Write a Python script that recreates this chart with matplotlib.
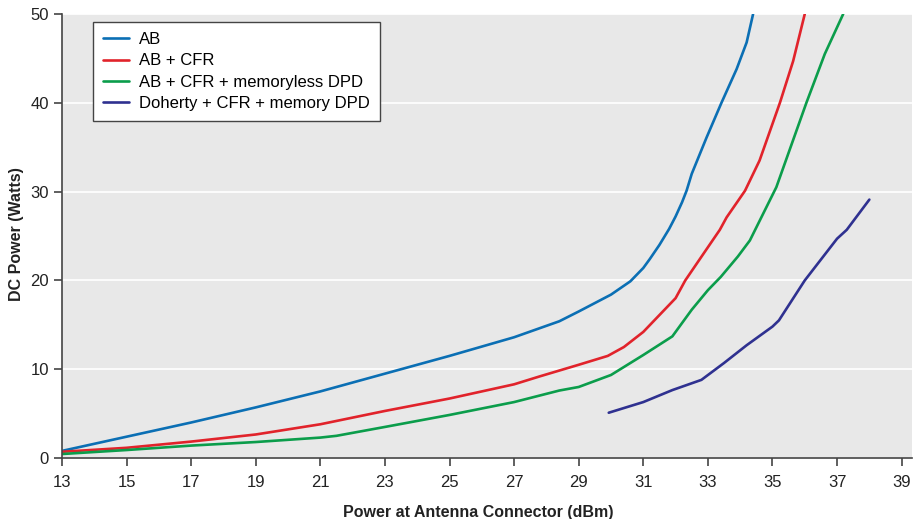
import matplotlib.pyplot as plt

plt.rcParams['font.family'] = ['Liberation Sans', 'DejaVu Sans']

# Data
ab_x = [13, 15, 17, 19, 21, 23, 25, 27, 28.4, 29, 30, 30.6, 31, 31.2, 31.5, 31.8,
        32.0, 32.2, 32.34, 32.5, 32.96, 33.42, 33.89, 34.2, 34.4]
ab_y = [0.8, 2.4, 4.0, 5.7, 7.5, 9.5, 11.5, 13.6, 15.4, 16.5, 18.4, 19.9, 21.4, 22.4, 24.0, 25.8,
        27.2, 28.8, 30.1, 32.0, 36.1, 40.0, 43.8, 46.8, 50.0]

cfr_x = [13, 15, 17, 19, 21, 23, 25, 27, 27.8, 29, 29.45, 29.9, 30.4, 31, 31.5, 32.0,
         32.3, 32.9, 33.37, 33.58, 34.15, 34.6, 35.23, 35.64, 36.0]
cfr_y = [0.7, 1.15, 1.85, 2.65, 3.8, 5.3, 6.7, 8.3, 9.2, 10.5, 11.0, 11.5, 12.5, 14.2, 16.1, 18.0,
         20.0, 23.2, 25.7, 27.1, 30.1, 33.5, 40.0, 44.7, 50.0]

dpd_x = [13, 15, 17, 19, 21, 21.5, 23, 25, 27, 28.4, 29, 30, 31, 31.9, 32.5, 33.0,
         33.4, 33.93, 34.3, 35.12, 36.05, 36.62, 37.19]
dpd_y = [0.45, 0.9, 1.4, 1.8, 2.3, 2.5, 3.5, 4.85, 6.3, 7.6, 8.0, 9.35, 11.6, 13.7, 16.7, 18.9,
         20.4, 22.7, 24.5, 30.5, 40.0, 45.5, 50.0]

doh_x = [29.93, 31, 31.9, 32.8, 33.5, 34.2, 35.0, 35.2, 36.0, 37.0, 37.3, 38.0]
doh_y = [5.1, 6.3, 7.65, 8.8, 10.7, 12.7, 14.8, 15.5, 20.0, 24.7, 25.7, 29.1]

series = [
    ('AB', ab_x, ab_y, '#0b6fb4'),
    ('AB + CFR', cfr_x, cfr_y, '#e1232b'),
    ('AB + CFR + memoryless DPD', dpd_x, dpd_y, '#0b9d4b'),
    ('Doherty + CFR + memory DPD', doh_x, doh_y, '#2f3190'),
]

fig = plt.figure(figsize=(9.14, 5.19), dpi=100)
ax = fig.add_axes([0.0678, 0.1175, 0.930, 0.8555])
ax.set_facecolor('#e8e8e8')

for label, xs, ys, color in series:
    ax.plot(xs, ys, color=color, linewidth=1.9, label=label,
            solid_joinstyle='round', solid_capstyle='round')

ax.set_xlim(13, 39.32)
ax.set_ylim(0, 50)
ax.set_xticks(range(13, 40, 2))
ax.set_yticks(range(0, 51, 10))
ax.yaxis.grid(True, color='white', linewidth=1.2)
ax.set_axisbelow(True)

for side in ['top', 'right']:
    ax.spines[side].set_visible(False)
for side in ['left', 'bottom']:
    ax.spines[side].set_color('#444444')
    ax.spines[side].set_linewidth(1.2)
ax.tick_params(axis='both', colors='#444444', labelcolor='#222222', labelsize=12,
               length=6, width=1.2, direction='out')
ax.tick_params(axis='x', pad=6)

ax.set_xlabel('Power at Antenna Connector (dBm)', fontsize=11.5, fontweight='bold',
              color='#222222', va='center')
ax.xaxis.set_label_coords(0.49, -0.123)
ax.set_ylabel('DC Power (Watts)', fontsize=11.5, fontweight='bold', color='#222222',
              va='center')
ax.yaxis.set_label_coords(-0.054, 0.505)

leg = ax.legend(loc='upper left', bbox_to_anchor=(0.036, 0.982), fontsize=12,
                frameon=True, fancybox=False, handlelength=1.6, handletextpad=0.6,
                borderpad=0.6, labelspacing=0.38, borderaxespad=0)
leg.get_frame().set_edgecolor('#444444')
leg.get_frame().set_facecolor('white')
leg.get_frame().set_alpha(1)
leg.get_frame().set_linewidth(1.0)

plt.savefig('out.png', dpi=100)
